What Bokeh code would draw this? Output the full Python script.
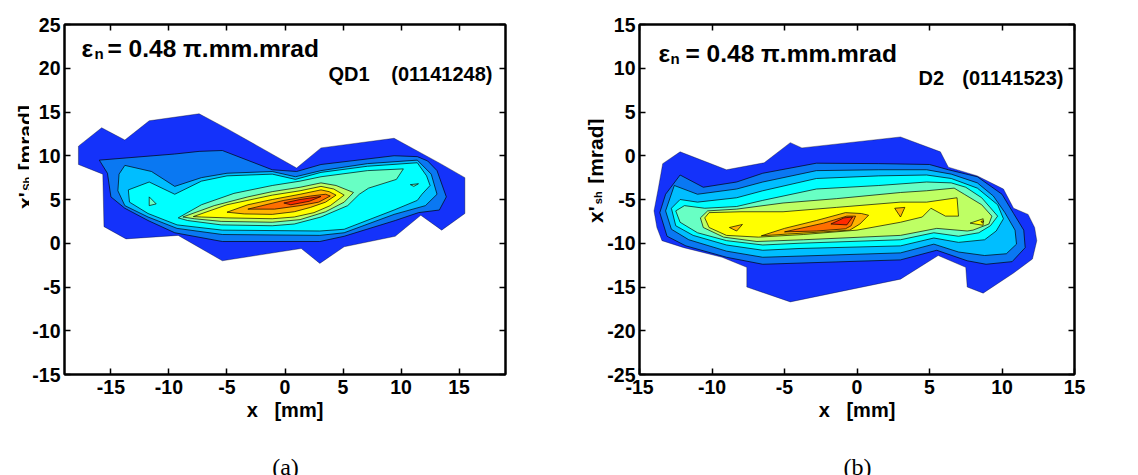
import math
from bokeh.plotting import figure
from bokeh.models import ColumnDataSource, Label, LinearAxis, FixedTicker, Range1d, CustomJSTickFormatter
from bokeh.layouts import row, column
from bokeh.core.properties import value
from bokeh.embed import file_html
from bokeh.resources import INLINE

FONT = "Liberation Sans"
LEVEL_COLORS = ["#1432FA", "#0A78F2", "#00BEFF", "#00FFFF", "#68FFC4",
                "#BEFF64", "#FFFF00", "#FFB400", "#FF6E00", "#FF2A00"]

# ---------------- panel (a): QD1 (01141248), x [mm] vs x'Sh [mrad] ----------------
a_l1_x = [-17.8, -17.8, -15.8, -13.8, -11.7, -7.4, -5.0, 1.0, 3.1, 9.4, 13.4, 15.5, 15.5, 13.5, 11.7, 9.5, 5.1, 3.0, 1.4, -5.4, -9.2, -13.7, -15.6, -15.7]
a_l1_y = [9.0, 11.1, 13.2, 11.8, 14.0, 14.8, 13.1, 8.6, 10.9, 12.0, 9.1, 7.5, 3.4, 1.5, 3.2, 0.8, -0.4, -2.3, -0.6, -2.0, 0.9, 0.5, 1.9, 7.9]
a_l2_x = [-16.0, -9.5, -7.4, -5.4, -1.1, 1.0, 3.1, 9.4, 11.4, 12.3, 13.1, 13.9, 13.3, 11.5, 9.5, 5.1, 3.0, -5.4, -9.5, -11.8, -13.8, -15.0, -15.3]
a_l2_y = [9.5, 10.2, 10.5, 10.6, 8.4, 8.2, 9.0, 10.0, 9.9, 9.4, 8.3, 5.3, 3.8, 3.5, 2.6, 0.8, 0.2, 0.2, 1.2, 2.6, 4.0, 5.3, 8.0]
a_l3_x = [-13.8, -11.5, -9.5, -7.2, -5.0, -1.1, 0.9, 3.1, 7.1, 11.4, 12.6, 13.1, 12.1, 9.4, 5.1, 3.0, -5.4, -9.3, -11.8, -13.8, -14.4, -14.3]
a_l3_y = [8.9, 8.2, 6.5, 7.5, 8.0, 8.2, 7.6, 8.3, 9.1, 9.5, 7.9, 5.6, 4.3, 3.3, 1.2, 0.9, 1.0, 1.7, 3.0, 4.3, 6.0, 7.9]
a_l4_x = [-13.5, -11.7, -9.5, -7.2, -5.0, -1.1, 0.9, 3.1, 7.1, 11.4, 12.2, 12.5, 11.8, 11.4, 9.4, 5.1, 3.0, -5.4, -9.3, -11.8, -13.4]
a_l4_y = [6.1, 7.0, 5.6, 7.1, 7.7, 7.9, 7.3, 8.1, 8.8, 9.2, 7.7, 6.6, 5.6, 4.9, 3.8, 1.6, 1.4, 1.5, 2.1, 3.4, 4.7]
a_l5_x = [-9.2, -7.2, -4.4, -1.1, 1.3, 3.1, 7.1, 10.2, 9.6, 7.2, 6.4, 5.4, 3.1, 0.8, -1.1, -5.5, -8.4]
a_l5_y = [2.9, 4.4, 5.7, 6.6, 7.1, 7.6, 8.3, 8.5, 7.3, 6.3, 5.6, 4.3, 3.0, 2.2, 2.0, 2.1, 2.6]
a_i5a_x = [-11.7, -11.1, -11.7]
a_i5a_y = [5.3, 4.5, 4.3]
a_i5b_x = [10.8, 11.5, 11.1]
a_i5b_y = [6.7, 6.8, 6.5]
a_l6_x = [-8.8, -6.1, -3.2, -1.1, 1.3, 3.1, 4.4, 5.9, 5.1, 3.5, 1.3, -1.1, -5.5, -7.8]
a_l6_y = [3.0, 4.3, 5.3, 5.9, 6.4, 6.9, 6.6, 5.8, 4.7, 3.6, 2.7, 2.4, 2.5, 2.8]
a_l7_x = [-7.9, -5.0, -1.1, 1.3, 3.1, 4.2, 5.1, 3.9, 2.5, 0.8, -1.1, -5.0, -7.2]
a_l7_y = [3.05, 4.4, 5.5, 6.0, 6.5, 6.2, 5.5, 4.3, 3.5, 3.0, 2.8, 2.9, 3.0]
a_l8_x = [-5.0, -3.2, -1.1, 1.3, 3.1, 3.8, 4.4, 3.5, 2.2, 0.8, -1.1, -3.5]
a_l8_y = [3.55, 4.4, 5.0, 5.6, 6.1, 5.9, 5.5, 4.7, 4.1, 3.6, 3.3, 3.35]
a_l9_x = [-3.2, -0.1, 2.2, 3.5, 3.9, 2.9, 1.3, -0.9]
a_l9_y = [3.9, 4.9, 5.4, 5.6, 5.4, 4.7, 4.3, 3.9]
a_l10_x = [-0.1, 1.3, 3.1, 2.1, 0.5]
a_l10_y = [4.6, 5.0, 5.35, 4.8, 4.4]

# ---------------- panel (b): D2 (01141523) ----------------
b_l1_x = [-13.4, -12.2, -9.0, -6.4, -4.6, -3.8, 3.0, 5.75, 6.3, 8.3, 10.1, 10.8, 11.8, 12.25, 12.4, 12.1, 10.8, 8.7, 7.6, 7.5, 5.6, 3.0, -4.6, -7.6, -7.6, -9.3, -11.95, -13.45, -13.8, -14.0, -13.7]
b_l1_y = [-0.9, 0.45, -1.6, -0.8, 1.5, 0.9, 2.15, 0.45, -1.3, -2.3, -3.8, -6.0, -6.7, -8.2, -9.7, -11.8, -13.4, -15.7, -15.0, -12.75, -11.4, -14.1, -16.7, -15.0, -12.75, -11.6, -10.5, -9.7, -8.2, -6.3, -3.7]
b_l2_x = [-12.2, -10.6, -8.3, -6.5, -2.8, 1.5, 5.0, 6.3, 8.3, 10.0, 10.8, 11.5, 11.6, 10.7, 8.9, 7.6, 5.5, 3.0, -6.5, -9.0, -11.8, -13.1, -13.6, -13.2]
b_l2_y = [-2.2, -3.6, -3.0, -2.0, -0.85, -0.9, -1.0, -1.6, -2.4, -4.4, -6.6, -8.5, -10.5, -12.1, -12.4, -12.0, -10.8, -11.9, -12.4, -11.6, -10.3, -9.2, -6.5, -4.4]
b_l3_x = [-12.6, -11.0, -8.3, -6.5, -2.8, 1.5, 4.8, 6.5, 8.3, 9.4, 10.2, 10.9, 11.0, 10.3, 8.8, 7.0, 5.3, 3.0, -6.5, -9.0, -11.6, -12.8, -13.2]
b_l3_y = [-3.4, -4.4, -3.8, -3.0, -1.7, -1.6, -1.6, -2.1, -3.1, -4.6, -6.5, -8.5, -10.1, -11.2, -11.4, -11.0, -10.1, -11.1, -11.6, -10.9, -9.6, -8.4, -6.3]
b_l4_x = [-12.8, -12.2, -11.0, -8.3, -6.5, -2.8, 1.5, 4.8, 6.5, 8.3, 9.7, 10.1, 9.6, 8.8, 7.0, 5.3, 3.0, -4.0, -6.5, -9.0, -11.3, -12.5]
b_l4_y = [-6.0, -5.0, -5.3, -4.8, -4.0, -2.6, -2.3, -2.2, -2.6, -3.7, -5.6, -7.2, -8.6, -9.6, -9.9, -9.4, -10.3, -10.6, -10.8, -10.2, -9.1, -8.0]
b_l5_x = [-12.5, -11.9, -10.5, -8.3, -6.5, -2.8, 1.5, 4.8, 6.5, 7.5, 8.6, 9.7, 9.2, 8.4, 7.0, 5.3, 3.0, -4.0, -6.5, -9.0, -11.0, -12.2]
b_l5_y = [-6.3, -5.7, -6.0, -5.8, -5.1, -3.8, -3.4, -3.0, -3.1, -3.6, -4.8, -6.9, -8.0, -8.8, -9.2, -8.8, -9.6, -10.0, -10.2, -9.7, -8.8, -7.6]
b_l6_x = [-10.8, -10.3, -8.3, -5.1, -1.4, 3.0, 4.8, 6.7, 7.4, 8.6, 9.3, 9.1, 8.0, 7.6, 5.5, 3.0, -3.7, -6.9, -9.2, -10.6]
b_l6_y = [-7.1, -6.3, -6.1, -5.4, -4.9, -4.2, -4.0, -3.7, -4.4, -5.6, -6.9, -7.8, -8.5, -8.6, -8.3, -9.1, -9.6, -9.8, -9.3, -8.2]
b_l7_x = [-10.5, -10.2, -8.0, -5.1, -1.4, 3.0, 4.8, 6.9, 7.0, 6.1, 5.1, 4.5, 3.0, 0.0, -3.7, -6.8, -9.0, -10.2]
b_l7_y = [-7.1, -6.5, -6.4, -6.4, -5.9, -5.3, -5.3, -4.8, -6.9, -6.9, -6.0, -7.0, -7.6, -8.5, -9.0, -9.3, -9.1, -8.2]
b_i7_x = [7.8, 8.7, 8.7]
b_i7_y = [-7.7, -7.2, -7.95]
b_l8_x = [-6.6, -5.0, -2.8, -0.8, 0.3, 0.8, 0.2, -0.5, -2.3, -4.8]
b_l8_y = [-9.15, -8.3, -7.4, -6.5, -6.6, -6.8, -7.8, -8.5, -8.7, -8.95]
b_i8a_x = [2.6, 3.3, 3.0]
b_i8a_y = [-6.0, -5.9, -7.0]
b_i8b_x = [-8.8, -7.9, -8.3]
b_i8b_y = [-8.2, -7.85, -8.6]
b_i8c_x = [8.55, 8.75, 8.65]
b_i8c_y = [-7.5, -7.45, -7.7]
b_l9_x = [-5.0, -2.3, -0.7, -0.1, -0.4, -0.8, -2.8]
b_l9_y = [-8.7, -7.7, -6.9, -6.9, -8.0, -8.35, -8.6]
b_l10_x = [-1.8, -0.9, -0.3, -0.7]
b_l10_y = [-7.8, -7.1, -7.0, -7.9]

A_POLYS = [(0, a_l1_x, a_l1_y), (1, a_l2_x, a_l2_y), (2, a_l3_x, a_l3_y), (3, a_l4_x, a_l4_y),
           (4, a_l5_x, a_l5_y), (4, a_i5a_x, a_i5a_y), (4, a_i5b_x, a_i5b_y),
           (5, a_l6_x, a_l6_y), (6, a_l7_x, a_l7_y), (7, a_l8_x, a_l8_y),
           (8, a_l9_x, a_l9_y), (9, a_l10_x, a_l10_y)]
B_POLYS = [(0, b_l1_x, b_l1_y), (1, b_l2_x, b_l2_y), (2, b_l3_x, b_l3_y), (3, b_l4_x, b_l4_y),
           (4, b_l5_x, b_l5_y), (5, b_l6_x, b_l6_y), (6, b_l7_x, b_l7_y), (6, b_i7_x, b_i7_y),
           (7, b_l8_x, b_l8_y), (7, b_i8a_x, b_i8a_y), (7, b_i8b_x, b_i8b_y), (7, b_i8c_x, b_i8c_y),
           (8, b_l9_x, b_l9_y), (9, b_l10_x, b_l10_y)]

A_XRANGE = (-19, 19)
A_YRANGE = (-15, 25)
B_XRANGE = (-15, 15)
B_YRANGE = (-25, 15)
A_XTICKS = [-15, -10, -5, 0, 5, 10, 15]
A_YTICKS = [-15, -10, -5, 0, 5, 10, 15, 20, 25]
B_XTICKS = [-15, -10, -5, 0, 5, 10, 15]
B_YTICKS = [-25, -20, -15, -10, -5, 0, 5, 10, 15]

ROW_H = 446
CAP_H = 29
TOTAL_W = 1136
X_TITLE = "x\u00a0\u00a0\u00a0[mm]"


def style_axis(ax, ticks, standoff, labels=True):
    ax.ticker = FixedTicker(ticks=ticks)
    ax.formatter = CustomJSTickFormatter(code="return tick.toString()" if labels else "return ''")
    ax.major_tick_in = 6
    ax.major_tick_out = 0
    ax.minor_tick_in = 0
    ax.minor_tick_out = 0
    ax.major_tick_line_width = 1.5
    ax.major_tick_line_color = "black"
    ax.axis_line_width = 2
    ax.axis_line_color = "black"
    ax.major_label_text_font = FONT
    ax.major_label_text_font_style = "bold"
    ax.major_label_text_font_size = "19.5px" if labels else "1px"
    ax.major_label_text_color = "black"
    ax.major_label_standoff = standoff


def add_text(p, text, x, y, size, align="left"):
    p.add_layout(Label(x=x, y=y, x_units="screen", y_units="screen", text=text,
                       text_font=FONT, text_font_style="bold", text_font_size=f"{size}px",
                       text_align=align, text_baseline="alphabetic", text_color="black"))


def build_panel(polys, xr, yr, xticks, yticks, width, borders):
    left, right, top, bottom = borders
    p = figure(width=width, height=ROW_H, x_range=Range1d(*xr), y_range=Range1d(*yr),
               output_backend="svg", toolbar_location=None,
               min_border_left=left, min_border_right=right,
               min_border_top=top, min_border_bottom=bottom)
    p.grid.visible = False
    p.outline_line_color = "black"
    p.outline_line_width = 2
    src = ColumnDataSource(dict(
        xs=[q[1] for q in polys], ys=[q[2] for q in polys],
        color=[LEVEL_COLORS[q[0]] for q in polys],
        lw=[0.4 if q[0] == 0 else 0.8 for q in polys],
    ))
    p.patches("xs", "ys", source=src, fill_color="color", line_color="black",
              line_width="lw", line_alpha=0.85)
    xa = p.below[0]
    style_axis(xa, xticks, 5)
    style_axis(p.left[0], yticks, 4)
    xa.axis_label = X_TITLE
    xa.axis_label_text_font = FONT
    xa.axis_label_text_font_style = "bold"
    xa.axis_label_text_font_size = "20px"
    xa.axis_label_text_color = "black"
    xa.axis_label_standoff = 2
    for loc, ticks in (("above", xticks), ("right", yticks)):
        ax = LinearAxis()
        style_axis(ax, ticks, 0, labels=False)
        p.add_layout(ax, loc)
    return p


def text_fig(width, height):
    s = figure(width=width, height=height, x_range=Range1d(0, width), y_range=Range1d(0, height),
               output_backend="svg", toolbar_location=None, min_border=0,
               x_axis_type=None, y_axis_type=None)
    s.grid.visible = False
    s.outline_line_color = None
    return s


def add_vertical_label(s, xs, ys, texts, sizes):
    src = ColumnDataSource(dict(x=xs, y=ys, text=texts, size=sizes))
    s.text("x", "y", text="text", source=src, angle=math.pi / 2, text_font=value(FONT),
           text_font_style="bold", text_font_size="size", text_align="left",
           text_baseline="alphabetic", text_color="black")


# left y-label strip (rotated text: x'Sh [mrad])
sa = text_fig(29, ROW_H)
add_vertical_label(sa, [24.5, 26.5, 24.5], [211, 234, 260], ["x'", "Sh", "[mrad]"], ["21px", "11px", "21px"])

p1 = build_panel(A_POLYS, A_XRANGE, A_YRANGE, A_XTICKS, A_YTICKS, 541, (35, 65, 24, ROW_H - 379))

sb = text_fig(34, ROW_H)
add_vertical_label(sb, [25, 27, 25], [193, 217, 243], ["x'", "sh", "[mrad]"], ["21px", "11px", "21px"])

p2 = build_panel(B_POLYS, B_XRANGE, B_YRANGE, B_XTICKS, B_YTICKS, 532, (35, 62, 21, ROW_H - 374))

# in-plot annotations (screen units relative to the plot frame)
add_text(p1, "ε", 17, 326, 24.5)
add_text(p1, "n", 30, 321, 15)
add_text(p1, "= 0.48 π.mm.mrad", 43, 326, 24.5)
add_text(p1, "QD1", 264, 301, 20)
add_text(p1, "(01141248)", 428, 301, 20, align="right")

add_text(p2, "ε", 19, 321, 24.5)
add_text(p2, "n", 31, 316, 15)
add_text(p2, "= 0.48 π.mm.mrad", 46, 321, 24.5)
add_text(p2, "D2", 279, 297, 20)
add_text(p2, "(01141523)", 424, 297, 20, align="right")

# bottom strip: panel captions
cap = text_fig(TOTAL_W, CAP_H)
cap_src = ColumnDataSource(dict(x=[285, 857], y=[9, 9], text=["(a)", "(b)"]))
cap.text("x", "y", text="text", source=cap_src, text_font=value("Liberation Serif"),
         text_font_size="24px", text_align="center", text_baseline="alphabetic",
         text_color="black")

layout = column(row(sa, p1, sb, p2), cap)
open("out.html", "w").write(file_html(layout, INLINE))
